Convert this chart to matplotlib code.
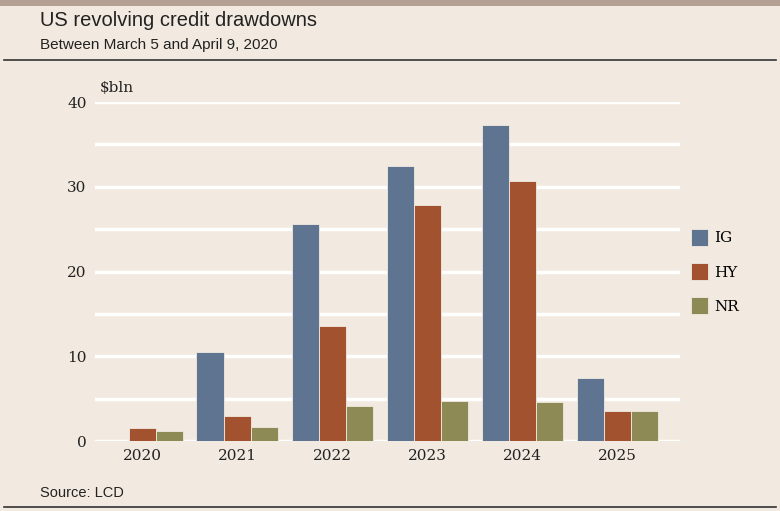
import numpy as np
import matplotlib.pyplot as plt
from matplotlib.patches import Rectangle
from matplotlib.lines import Line2D

years = ["2020", "2021", "2022", "2023", "2024", "2025"]
ig = [0.0, 10.5, 25.6, 32.4, 37.3, 7.4]
hy = [1.5, 2.95, 13.6, 27.8, 30.7, 3.5]
nr = [1.2, 1.65, 4.1, 4.7, 4.6, 3.5]
series = [("IG", ig, "#5e7490"), ("HY", hy, "#a3522f"), ("NR", nr, "#8e8a55")]

bg = "#f2eae0"
fig = plt.figure(figsize=(7.8, 5.11), dpi=100, facecolor=bg)

# header / footer decoration
fig.add_artist(Rectangle((0, 1 - 6 / 511), 1, 6 / 511, transform=fig.transFigure,
                         color="#b3a092", lw=0))
fig.add_artist(Line2D([0.005, 0.995], [1 - 60 / 511] * 2, transform=fig.transFigure,
                      color="#333333", lw=1.2))
fig.add_artist(Line2D([0.005, 0.995], [1 - 507 / 511] * 2, transform=fig.transFigure,
                      color="#333333", lw=1.2))
fig.text(40 / 780, 1 - 21 / 511, "US revolving credit drawdowns", fontsize=14.5,
         family="Liberation Sans", va="center", color="#222222")
fig.text(40 / 780, 1 - 45 / 511, "Between March 5 and April 9, 2020", fontsize=11,
         family="Liberation Sans", va="center", color="#222222")
fig.text(40 / 780, 1 - 493 / 511, "Source: LCD", fontsize=10.5,
         family="Liberation Sans", va="center", color="#222222")

ax = fig.add_axes([95 / 780, 70 / 511, 585 / 780, 339 / 511])
ax.set_facecolor(bg)
x = np.arange(len(years))
w = 0.285
for i, (name, vals, col) in enumerate(series):
    ax.bar(x + (i - 1) * w, vals, w, color=col, edgecolor=bg, linewidth=0.6,
           label=name, zorder=3)

ax.set_xlim(-0.495, 5.66)
ax.set_ylim(0, 40)
ax.set_yticks([0, 10, 20, 30, 40])
ax.set_yticks([5, 15, 25, 35], minor=True)
ax.grid(axis="y", which="both", color="white", lw=2.5, zorder=0)
ax.set_xticks(x)
ax.set_xticklabels(years)
for s in ax.spines.values():
    s.set_visible(False)
ax.tick_params(length=0, which="both", labelsize=11, colors="#222222", pad=6)
for lab in ax.get_xticklabels() + ax.get_yticklabels():
    lab.set_family("DejaVu Serif")
ax.text(-0.27, 41.6, "$bln", fontsize=11, family="DejaVu Serif", color="#222222",
        va="center", ha="center")

ax.legend(loc="center left", bbox_to_anchor=(0.995, 0.5), frameon=False,
          prop={"family": "DejaVu Serif", "size": 11}, handlelength=1.1,
          handleheight=1.3, labelspacing=1.15, handletextpad=0.45)

fig.savefig("out.png", dpi=100, facecolor=bg)
